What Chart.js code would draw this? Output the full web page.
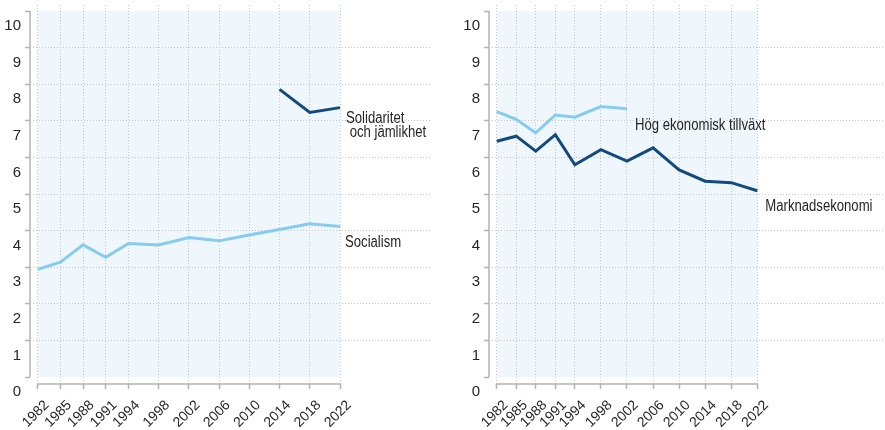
<!DOCTYPE html>
<html>
<head>
<meta charset="utf-8">
<script src="https://cdn.jsdelivr.net/npm/chart.js@4.4.1/dist/chart.umd.min.js"></script>
<style>
  html, body { margin: 0; padding: 0; background: #ffffff; }
  #wrap { position: relative; width: 885px; height: 430px; overflow: hidden; }
  #c1 { position: absolute; left: 0; top: 0; }
  #c2 { position: absolute; left: 440px; top: 0; }
</style>
</head>
<body>
<div id="wrap">
  <canvas id="c1" width="440" height="430"></canvas>
  <canvas id="c2" width="445" height="430"></canvas>
</div>
<script>
// ---- data ----
const years = [1982, 1985, 1988, 1991, 1994, 1998, 2002, 2006, 2010, 2014, 2018, 2022];
const yTicks = [0, 1, 2, 3, 4, 5, 6, 7, 8, 9, 10];
const shadeYears = [1982, 2022];
const shadeTop = [10, 10];

// left panel
const socialism   = [2.94, 3.14, 3.61, 3.27, 3.65, 3.61, 3.81, 3.72, 3.88, 4.03, 4.19, 4.11];
const solidaritet = [null, null, null, null, null, null, null, null, null, 7.86, 7.23, 7.36];
// right panel
const hogTillvaxt     = [7.25, 7.04, 6.67, 7.16, 7.10, 7.39, 7.33, null, null, null, null, null];
const marknadsekonomi = [6.44, 6.58, 6.17, 6.62, 5.80, 6.21, 5.90, 6.26, 5.66, 5.35, 5.31, 5.09];

const labelsLeft  = [['Solidaritet', ' och jämlikhet'], ['Socialism']];
const labelsRight = [['Hög ekonomisk tillväxt'], ['Marknadsekonomi']];

// ---- styles ----
const LIGHT = '#86cbf0';
const DARK = '#134a7e';
const SHADE = '#f0f7fc';
const GRID = '#c6c6c6';
const AXIS = '#b3b3b3';
const TEXT = '#262626';
const FONT = "'Liberation Sans', Arial, sans-serif";

Chart.defaults.font.family = FONT;
Chart.defaults.font.size = 14;
Chart.defaults.color = TEXT;

function pts(vals) { return years.map((yr, i) => ({ x: yr, y: vals[i] })); }

const rangeAxes = {
  id: 'rangeAxes',
  afterDraw(chart) {
    const { ctx, chartArea } = chart;
    const x = chart.scales.x, y = chart.scales.y;
    ctx.save();
    ctx.strokeStyle = AXIS;
    ctx.lineWidth = 1.5;
    ctx.beginPath();
    ctx.moveTo(chartArea.left, y.getPixelForValue(yTicks[yTicks.length - 1]));
    ctx.lineTo(chartArea.left, y.getPixelForValue(yTicks[0]));
    ctx.moveTo(x.getPixelForValue(years[0]), chartArea.bottom);
    ctx.lineTo(x.getPixelForValue(years[years.length - 1]), chartArea.bottom);
    ctx.stroke();
    ctx.restore();
  }
};

const seriesLabels = {
  id: 'seriesLabels',
  afterDatasetsDraw(chart, args, opts) {
    const { ctx } = chart;
    const x = chart.scales.x, y = chart.scales.y;
    ctx.save();
    ctx.fillStyle = TEXT;
    ctx.font = opts.size + 'px ' + FONT;
    ctx.textAlign = 'left';
    ctx.textBaseline = 'alphabetic';
    (opts.items || []).forEach(it => {
      const data = chart.data.datasets[it.dataset].data.filter(p => p.y !== null);
      const last = data[data.length - 1];
      const px = x.getPixelForValue(last.x) + it.dx;
      const py = y.getPixelForValue(last.y) + it.dy;
      it.text.forEach((t, i) => {
        ctx.save();
        ctx.translate(px, py + i * opts.lineHeight);
        ctx.scale(opts.squeeze, 1);
        ctx.fillText(t, 0, 0);
        ctx.restore();
      });
    });
    ctx.restore();
  }
};

function makeChart(id, datasets, xMin, xMax, yWidth, padRight, labelItems) {
  return new Chart(document.getElementById(id), {
    type: 'line',
    data: { datasets },
    options: {
      responsive: false,
      animation: false,
      events: [],
      layout: { padding: { top: 5, right: padRight, left: 0, bottom: 0 } },
      plugins: {
        legend: { display: false },
        tooltip: { enabled: false },
        filler: { drawTime: 'beforeDraw' },
        seriesLabels: { items: labelItems, size: 16, lineHeight: 13.5, squeeze: 0.82 }
      },
      elements: { point: { radius: 0 }, line: { tension: 0 } },
      scales: {
        x: {
          type: 'linear',
          min: xMin,
          max: xMax,
          afterBuildTicks: s => { s.ticks = years.map(v => ({ value: v })); },
          afterFit: s => { s.height = 46; s.paddingLeft = 0; s.paddingRight = 0; s.paddingTop = 0; s.paddingBottom = 0; },
          border: { display: false, dash: [1, 2] },
          grid: {
            color: GRID, lineWidth: 1, drawTicks: true, tickLength: 5,
            tickColor: AXIS, tickWidth: 1.5, tickBorderDash: []
          },
          ticks: {
            autoSkip: false, minRotation: 45, maxRotation: 45,
            padding: 8, labelOffset: 9,
            font: { size: 14 }, color: TEXT,
            callback: v => String(v)
          }
        },
        y: {
          type: 'linear',
          min: -0.191,
          max: 10.164,
          afterBuildTicks: s => { s.ticks = yTicks.map(v => ({ value: v })); },
          afterFit: s => { s.width = yWidth; s.paddingLeft = 0; s.paddingRight = 0; s.paddingTop = 0; s.paddingBottom = 0; },
          border: { display: false, dash: [1, 2] },
          grid: {
            color: c => (c.tick && (c.tick.value === 0 || c.tick.value === 10)) ? 'rgba(0,0,0,0)' : GRID,
            lineWidth: 1, drawTicks: true, tickLength: 5,
            tickColor: AXIS, tickWidth: 1.5, tickBorderDash: []
          },
          ticks: {
            padding: 4, labelOffset: 15,
            font: { size: 15 }, color: TEXT,
            callback: v => String(v)
          }
        }
      }
    },
    plugins: [rangeAxes, seriesLabels]
  });
}

function shadeDataset() {
  return {
    data: shadeYears.map((yr, i) => ({ x: yr, y: shadeTop[i] })),
    borderWidth: 0, borderColor: 'rgba(0,0,0,0)',
    backgroundColor: SHADE, fill: 'origin', pointRadius: 0
  };
}

makeChart('c1', [
  shadeDataset(),
  { data: pts(solidaritet), borderColor: DARK, borderWidth: 3, fill: false, spanGaps: false },
  { data: pts(socialism), borderColor: LIGHT, borderWidth: 3, fill: false, spanGaps: false }
], 1980.98, 2034.17, 30, 8, [
  { dataset: 1, text: labelsLeft[0], dx: 6, dy: 15.6 },
  { dataset: 2, text: labelsLeft[1], dx: 5, dy: 20 }
]);

makeChart('c2', [
  shadeDataset(),
  { data: pts(hogTillvaxt), borderColor: LIGHT, borderWidth: 3, fill: false, spanGaps: false },
  { data: pts(marknadsekonomi), borderColor: DARK, borderWidth: 3, fill: false, spanGaps: false }
], 1980.82, 2041.6, 49, 0, [
  { dataset: 1, text: labelsRight[0], dx: 8, dy: 21.3 },
  { dataset: 2, text: labelsRight[1], dx: 8, dy: 20 }
]);
</script>
</body>
</html>
